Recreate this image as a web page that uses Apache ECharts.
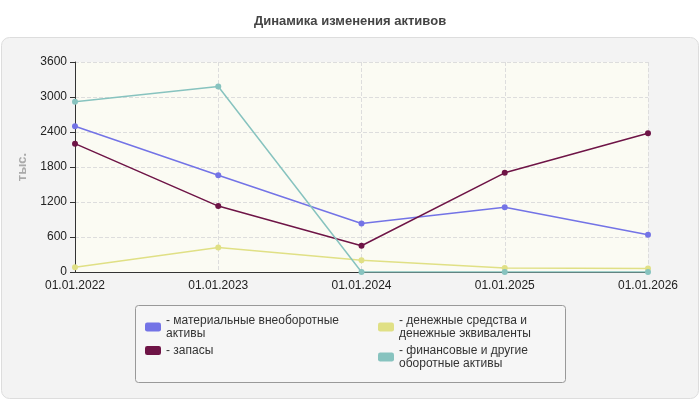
<!DOCTYPE html>
<html><head><meta charset="utf-8">
<script src="https://cdn.jsdelivr.net/npm/echarts@6/dist/echarts.min.js"></script>
<style>body{margin:0;background:#fff}#c{width:700px;height:400px}</style>
</head><body><div id="c"></div>
<script>
var categories = ['01.01.2022', '01.01.2023', '01.01.2024', '01.01.2025', '01.01.2026'];
var material = [2500, 1660, 830, 1110, 640];
var zapasy = [2200, 1130, 450, 1700, 2380];
var money = [80, 420, 200, 70, 60];
var finance = [2920, 3180, 0, 0, 0];
var names = ['материальные внеоборотные\nактивы', 'запасы', 'денежные средства и\nденежные эквиваленты', 'финансовые и другие\nоборотные активы'];

var myChart = echarts.init(document.getElementById('c'));
function line(name, data, color) {
    return {
        name: name, type: 'line', data: data, symbol: 'circle', symbolSize: 6,
        itemStyle: { color: color }, lineStyle: { color: color, width: 1.5 }
    };
}
function leg(left, data) {
    return {
        left: left, top: 314, orient: 'vertical',
        itemWidth: 16, itemHeight: 9, itemGap: 4, padding: 0,
        icon: 'roundRect',
        textStyle: { fontSize: 12, color: '#333', lineHeight: 13 },
        formatter: function (n) { return '- ' + n; },
        data: data
    };
}
var option = {
    animation: false,
    textStyle: { fontFamily: 'Liberation Sans, Arial, sans-serif' },
    title: {
        text: 'Динамика изменения активов', left: 'center', top: 10,
        textStyle: { fontSize: 13, fontWeight: 'bold', color: '#444' }
    },
    graphic: [{
        type: 'rect', left: 1, top: 37, z: -10,
        shape: { width: 697, height: 361, r: 8 },
        style: { fill: '#f3f3f3', stroke: '#ddd' }
    }, {
        type: 'rect', left: 135, top: 305, z: -5,
        shape: { width: 430, height: 77, r: 3 },
        style: { fill: '#f6f6f6', stroke: '#999' }
    }],
    legend: [leg(145, [names[0], names[1]]), leg(378, [names[2], names[3]])],
    grid: { left: 75, right: 52, top: 62, bottom: 128, backgroundColor: '#fbfbf3', show: true, borderWidth: 0 },
    xAxis: {
        type: 'category', data: categories, boundaryGap: false,
        axisLine: { lineStyle: { color: '#333' } },
        axisTick: { show: false },
        axisLabel: { color: '#222', fontSize: 12 },
        splitLine: { show: true, lineStyle: { color: '#ddd', type: 'dashed' } }
    },
    yAxis: {
        type: 'value', min: 0, max: 3600, interval: 600,
        name: 'тыс.', nameLocation: 'middle', nameGap: 45, nameRotate: 90,
        nameTextStyle: { color: '#aaa', fontSize: 13, fontWeight: 'bold' },
        axisLine: { show: true, lineStyle: { color: '#333' } },
        axisTick: { show: true },
        axisLabel: { color: '#222', fontSize: 12, formatter: function (v) { return String(v); } },
        splitLine: { lineStyle: { color: '#ddd', type: 'dashed' } }
    },
    series: [
        line(names[0], material, '#7373e6'),
        line(names[1], zapasy, '#6e1446'),
        line(names[2], money, '#e0e085'),
        line(names[3], finance, '#87c3bf')
    ]
};
myChart.setOption(option);
</script></body></html>
